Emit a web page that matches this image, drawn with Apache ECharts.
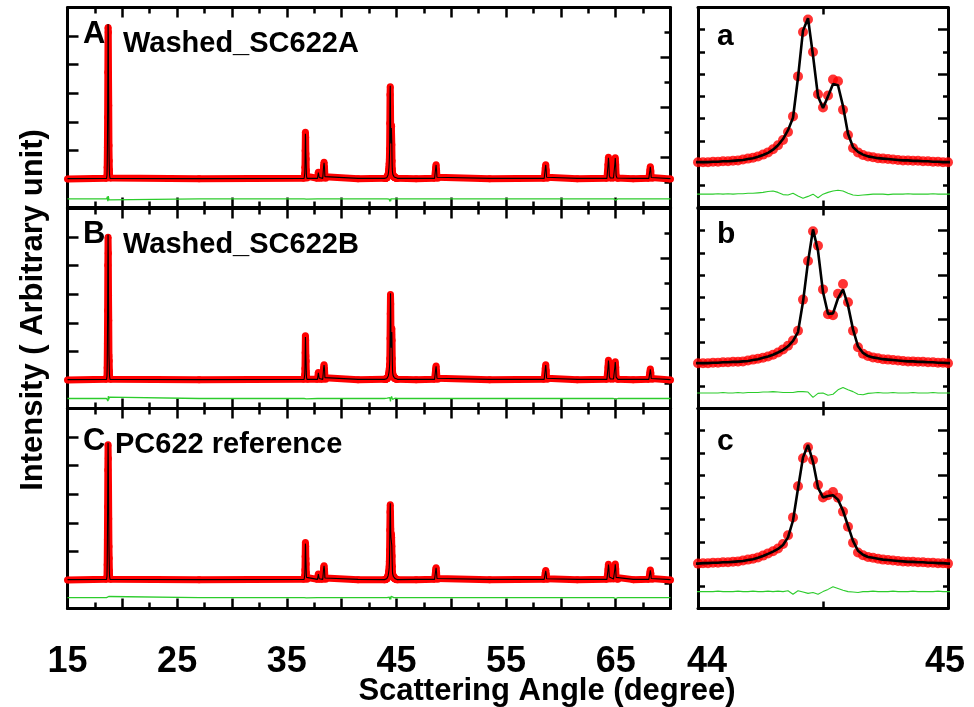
<!DOCTYPE html>
<html>
<head>
<meta charset="utf-8">
<script src="https://cdn.jsdelivr.net/npm/echarts@6/dist/echarts.min.js"></script>
<style>
  html, body { margin: 0; padding: 0; background: #fff; }
  #chart { width: 974px; height: 707px; }
</style>
</head>
<body>
<div id="chart"></div>
<script>
// Scattering angle grid (degree), shared by all three scans
const twoTheta = [
  15.0, 18.56,
  18.60, 18.62, 18.64, 18.66, 18.68, 18.70, 18.72, 18.74, 18.76, 18.78, 18.80, 18.82, 18.84,
  18.88, 27.0, 36.58,
  36.62, 36.64, 36.66, 36.68, 36.70, 36.72, 36.74, 36.76, 36.78, 36.80,
  36.84, 37.80,
  37.84, 37.88, 37.92, 37.96,
  38.02, 38.28,
  38.32, 38.36, 38.40, 38.44, 38.48,
  38.54, 41.5, 43.9,
  44.00, 44.02, 44.04, 44.06, 44.08, 44.10, 44.12, 44.14, 44.16, 44.18,
  44.20, 44.22, 44.24, 44.26, 44.28, 44.30, 44.32, 44.34, 44.36, 44.38,
  44.40, 44.42, 44.44, 44.46, 44.48, 44.50, 44.52, 44.54, 44.56, 44.58,
  44.60, 44.62, 44.64, 44.66, 44.68, 44.70, 44.72, 44.74, 44.76, 44.78,
  44.80, 44.82, 44.84, 44.86, 44.88, 44.90, 44.92, 44.94, 44.96, 44.98,
  45.00,
  45.1, 46.8, 48.48,
  48.54, 48.58, 48.62, 48.66, 48.70,
  48.76, 53.5, 58.48,
  58.54, 58.58, 58.62, 58.66, 58.70,
  58.76, 61.5, 64.20,
  64.26, 64.30, 64.34, 64.38, 64.42, 64.50, 64.80, 64.88, 64.92, 64.96, 65.00, 65.04, 65.12,
  65.20, 66.6, 68.02,
  68.08, 68.12, 68.16, 68.20, 68.24,
  68.32, 70.0
];

// Washed_SC622A : observed, calculated, difference
const obsA = [
  0.00, 0.02,
  0.10, 0.41, 1.10, 2.16, 3.73, 5.30, 5.13, 3.60, 2.57, 1.17, 0.64, 0.30, 0.12,
  0.03, 0.01, 0.02,
  0.08, 0.18, 0.41, 0.99, 1.63, 1.46, 0.88, 0.70, 0.30, 0.10,
  0.03, 0.02,
  0.05, 0.23, 0.20, 0.05,
  0.02, 0.03,
  0.08, 0.45, 0.58, 0.40, 0.08,
  0.02, 0.01, 0.02,
  0.02, 0.02, 0.02, 0.03, 0.03, 0.04, 0.04, 0.05, 0.06, 0.08,
  0.10, 0.12, 0.15, 0.19, 0.24, 0.31, 0.40, 0.52, 0.70, 1.05,
  1.95, 2.95, 3.23, 2.50, 1.55, 1.25, 1.52, 1.88, 1.84, 1.20,
  0.63, 0.34, 0.24, 0.18, 0.15, 0.13, 0.11, 0.10, 0.09, 0.08,
  0.07, 0.06, 0.06, 0.05, 0.05, 0.04, 0.04, 0.03, 0.03, 0.02,
  0.02,
  0.02, 0.01, 0.02,
  0.06, 0.38, 0.50, 0.30, 0.06,
  0.02, 0.01, 0.02,
  0.06, 0.38, 0.50, 0.30, 0.06,
  0.02, 0.01, 0.02,
  0.06, 0.50, 0.76, 0.55, 0.12, 0.03, 0.03, 0.10, 0.52, 0.74, 0.50, 0.12, 0.03,
  0.02, 0.01, 0.02,
  0.05, 0.30, 0.43, 0.28, 0.05,
  0.02, 0.00
];
const calcA = [
  0.01, 0.02,
  0.12, 0.45, 1.15, 2.25, 3.80, 5.42, 5.05, 3.52, 2.50, 1.20, 0.60, 0.28, 0.12,
  0.02, 0.01, 0.02,
  0.08, 0.19, 0.44, 1.02, 1.58, 1.42, 0.92, 0.66, 0.31, 0.10,
  0.02, 0.02,
  0.05, 0.22, 0.21, 0.05,
  0.02, 0.02,
  0.09, 0.44, 0.56, 0.41, 0.08,
  0.02, 0.02, 0.02,
  0.02, 0.02, 0.02, 0.03, 0.03, 0.04, 0.04, 0.05, 0.06, 0.07,
  0.09, 0.11, 0.14, 0.18, 0.23, 0.30, 0.40, 0.54, 0.74, 1.02,
  1.92, 2.98, 3.26, 2.42, 1.50, 1.24, 1.50, 1.78, 1.75, 1.28,
  0.66, 0.36, 0.25, 0.19, 0.15, 0.13, 0.11, 0.10, 0.09, 0.08,
  0.07, 0.06, 0.06, 0.05, 0.05, 0.04, 0.04, 0.03, 0.03, 0.02,
  0.02,
  0.02, 0.02, 0.02,
  0.06, 0.37, 0.49, 0.31, 0.06,
  0.02, 0.02, 0.02,
  0.06, 0.37, 0.49, 0.31, 0.06,
  0.02, 0.02, 0.02,
  0.06, 0.49, 0.74, 0.56, 0.12, 0.03, 0.03, 0.10, 0.51, 0.73, 0.51, 0.12, 0.03,
  0.02, 0.02, 0.02,
  0.05, 0.29, 0.42, 0.29, 0.05,
  0.02, 0.01
];
const diffA = [
  -0.70, -0.70,
  -0.70, -0.67, -0.62, -0.58, -0.78, -0.82, -0.60, -0.62, -0.64, -0.73, -0.66, -0.68, -0.70,
  -0.70, -0.70, -0.70,
  -0.70, -0.70, -0.71, -0.73, -0.65, -0.66, -0.74, -0.66, -0.71, -0.70,
  -0.69, -0.70,
  -0.70, -0.69, -0.71, -0.70,
  -0.70, -0.70,
  -0.71, -0.69, -0.68, -0.71, -0.70,
  -0.70, -0.70, -0.70,
  -0.70, -0.70, -0.70, -0.70, -0.69, -0.70, -0.69, -0.70, -0.69, -0.69,
  -0.68, -0.68, -0.67, -0.66, -0.64, -0.63, -0.66, -0.71, -0.72, -0.68,
  -0.74, -0.79, -0.75, -0.70, -0.78, -0.70, -0.66, -0.63, -0.61, -0.63,
  -0.68, -0.72, -0.73, -0.72, -0.71, -0.70, -0.70, -0.70, -0.71, -0.70,
  -0.70, -0.70, -0.69, -0.70, -0.70, -0.70, -0.70, -0.69, -0.70, -0.70,
  -0.70,
  -0.70, -0.70, -0.70,
  -0.70, -0.69, -0.70, -0.71, -0.70,
  -0.70, -0.70, -0.70,
  -0.70, -0.69, -0.70, -0.71, -0.70,
  -0.70, -0.70, -0.70,
  -0.70, -0.69, -0.66, -0.74, -0.70, -0.70, -0.70, -0.70, -0.68, -0.66, -0.74, -0.70, -0.70,
  -0.70, -0.70, -0.70,
  -0.70, -0.69, -0.71, -0.70, -0.70,
  -0.70, -0.70
];

// Washed_SC622B
const obsB = [
  0.00, 0.02,
  0.10, 0.43, 1.26, 2.43, 4.01, 4.99, 4.43, 2.96, 2.08, 0.85, 0.67, 0.30, 0.12,
  0.02, 0.01, 0.02,
  0.08, 0.18, 0.40, 0.95, 1.55, 1.38, 0.85, 0.66, 0.28, 0.10,
  0.02, 0.02,
  0.05, 0.26, 0.22, 0.05,
  0.02, 0.02,
  0.08, 0.42, 0.53, 0.38, 0.08,
  0.02, 0.01, 0.02,
  0.02, 0.02, 0.02, 0.03, 0.03, 0.04, 0.04, 0.05, 0.05, 0.06,
  0.08, 0.10, 0.12, 0.14, 0.17, 0.21, 0.26, 0.33, 0.41, 0.53,
  0.75, 1.45, 2.32, 2.99, 2.66, 1.68, 1.12, 1.10, 1.58, 1.80,
  1.39, 0.75, 0.38, 0.23, 0.18, 0.15, 0.13, 0.11, 0.10, 0.09,
  0.08, 0.07, 0.06, 0.06, 0.05, 0.05, 0.04, 0.04, 0.03, 0.03,
  0.02,
  0.02, 0.01, 0.02,
  0.06, 0.37, 0.49, 0.29, 0.06,
  0.02, 0.01, 0.02,
  0.06, 0.40, 0.53, 0.32, 0.06,
  0.02, 0.01, 0.02,
  0.06, 0.45, 0.69, 0.50, 0.12, 0.03, 0.03, 0.10, 0.45, 0.64, 0.44, 0.10, 0.03,
  0.02, 0.01, 0.02,
  0.05, 0.27, 0.38, 0.25, 0.05,
  0.02, 0.00
];
const calcB = [
  0.01, 0.02,
  0.12, 0.46, 1.30, 2.50, 4.10, 5.08, 4.35, 2.90, 2.02, 0.88, 0.62, 0.28, 0.12,
  0.02, 0.01, 0.02,
  0.08, 0.19, 0.42, 0.98, 1.50, 1.34, 0.88, 0.62, 0.29, 0.10,
  0.02, 0.02,
  0.05, 0.25, 0.23, 0.05,
  0.02, 0.02,
  0.09, 0.41, 0.52, 0.39, 0.08,
  0.02, 0.02, 0.02,
  0.02, 0.02, 0.02, 0.03, 0.03, 0.04, 0.04, 0.05, 0.05, 0.06,
  0.07, 0.09, 0.11, 0.14, 0.17, 0.21, 0.26, 0.32, 0.40, 0.52,
  0.72, 1.40, 2.30, 3.03, 2.55, 1.62, 1.13, 1.14, 1.48, 1.68,
  1.32, 0.78, 0.40, 0.25, 0.18, 0.15, 0.13, 0.11, 0.10, 0.09,
  0.08, 0.07, 0.06, 0.06, 0.05, 0.05, 0.04, 0.04, 0.03, 0.03,
  0.02,
  0.02, 0.02, 0.02,
  0.06, 0.36, 0.48, 0.30, 0.06,
  0.02, 0.02, 0.02,
  0.06, 0.39, 0.52, 0.33, 0.06,
  0.02, 0.02, 0.02,
  0.06, 0.44, 0.68, 0.51, 0.12, 0.03, 0.03, 0.10, 0.44, 0.63, 0.45, 0.10, 0.03,
  0.02, 0.02, 0.02,
  0.05, 0.26, 0.37, 0.26, 0.05,
  0.02, 0.01
];
const diffB = [
  -0.65, -0.65,
  -0.65, -0.63, -0.61, -0.58, -0.56, -0.74, -0.57, -0.59, -0.59, -0.68, -0.60, -0.63, -0.65,
  -0.65, -0.65, -0.65,
  -0.65, -0.66, -0.67, -0.68, -0.60, -0.61, -0.68, -0.61, -0.66, -0.65,
  -0.65, -0.65,
  -0.65, -0.64, -0.66, -0.65,
  -0.65, -0.65,
  -0.66, -0.64, -0.64, -0.66, -0.65,
  -0.65, -0.65, -0.65,
  -0.65, -0.65, -0.65, -0.65, -0.65, -0.64, -0.65, -0.65, -0.64, -0.65,
  -0.64, -0.64, -0.64, -0.63, -0.63, -0.62, -0.63, -0.64, -0.64, -0.64,
  -0.62, -0.62, -0.63, -0.75, -0.66, -0.65, -0.70, -0.68, -0.58, -0.53,
  -0.58, -0.62, -0.68, -0.69, -0.66, -0.65, -0.64, -0.65, -0.65, -0.64,
  -0.65, -0.65, -0.65, -0.64, -0.65, -0.65, -0.65, -0.64, -0.65, -0.65,
  -0.65,
  -0.65, -0.65, -0.65,
  -0.65, -0.64, -0.65, -0.66, -0.65,
  -0.65, -0.65, -0.65,
  -0.65, -0.64, -0.65, -0.66, -0.65,
  -0.65, -0.65, -0.65,
  -0.65, -0.64, -0.62, -0.68, -0.65, -0.65, -0.65, -0.65, -0.63, -0.62, -0.68, -0.65, -0.65,
  -0.65, -0.65, -0.65,
  -0.65, -0.64, -0.66, -0.65, -0.65,
  -0.65, -0.65
];

// PC622 reference
const obsC = [
  0.00, 0.02,
  0.10, 0.53, 1.41, 2.56, 3.85, 4.73, 4.25, 3.26, 2.14, 1.17, 0.76, 0.32, 0.12,
  0.02, 0.01, 0.02,
  0.07, 0.15, 0.35, 0.82, 1.31, 1.18, 0.74, 0.56, 0.24, 0.09,
  0.02, 0.02,
  0.04, 0.21, 0.18, 0.04,
  0.02, 0.02,
  0.07, 0.40, 0.50, 0.35, 0.07,
  0.02, 0.01, 0.01,
  0.01, 0.02, 0.02, 0.03, 0.03, 0.04, 0.04, 0.05, 0.06, 0.08,
  0.10, 0.12, 0.15, 0.19, 0.24, 0.29, 0.35, 0.45, 0.65, 1.05,
  1.75, 2.38, 2.63, 2.34, 1.78, 1.50, 1.55, 1.62, 1.49, 1.18,
  0.84, 0.48, 0.26, 0.20, 0.16, 0.14, 0.12, 0.10, 0.09, 0.08,
  0.07, 0.06, 0.05, 0.05, 0.04, 0.04, 0.03, 0.03, 0.02, 0.02,
  0.01,
  0.01, 0.01, 0.02,
  0.05, 0.33, 0.43, 0.26, 0.05,
  0.02, 0.01, 0.02,
  0.04, 0.25, 0.33, 0.20, 0.04,
  0.02, 0.01, 0.02,
  0.05, 0.36, 0.55, 0.40, 0.10, 0.03, 0.03, 0.09, 0.38, 0.56, 0.38, 0.09, 0.03,
  0.02, 0.01, 0.02,
  0.05, 0.25, 0.35, 0.23, 0.05,
  0.02, 0.00
];
const calcC = [
  0.01, 0.02,
  0.12, 0.55, 1.45, 2.62, 3.92, 4.80, 4.18, 3.20, 2.10, 1.20, 0.72, 0.30, 0.12,
  0.02, 0.01, 0.02,
  0.07, 0.16, 0.37, 0.85, 1.27, 1.15, 0.77, 0.53, 0.25, 0.09,
  0.02, 0.02,
  0.04, 0.20, 0.19, 0.04,
  0.02, 0.02,
  0.08, 0.39, 0.49, 0.36, 0.07,
  0.02, 0.02, 0.01,
  0.01, 0.02, 0.02, 0.03, 0.03, 0.04, 0.04, 0.05, 0.06, 0.07,
  0.09, 0.11, 0.14, 0.18, 0.23, 0.28, 0.34, 0.43, 0.60, 0.98,
  1.70, 2.40, 2.68, 2.30, 1.72, 1.50, 1.53, 1.55, 1.45, 1.20,
  0.86, 0.52, 0.30, 0.21, 0.16, 0.14, 0.12, 0.10, 0.09, 0.08,
  0.07, 0.06, 0.05, 0.05, 0.04, 0.04, 0.03, 0.03, 0.02, 0.02,
  0.01,
  0.01, 0.02, 0.02,
  0.05, 0.32, 0.42, 0.27, 0.05,
  0.02, 0.02, 0.02,
  0.04, 0.24, 0.32, 0.21, 0.04,
  0.02, 0.02, 0.02,
  0.05, 0.35, 0.54, 0.41, 0.10, 0.03, 0.03, 0.09, 0.37, 0.55, 0.39, 0.09, 0.03,
  0.02, 0.02, 0.02,
  0.05, 0.24, 0.34, 0.24, 0.05,
  0.02, 0.01
];
const diffC = [
  -0.62, -0.62,
  -0.62, -0.60, -0.58, -0.56, -0.55, -0.69, -0.55, -0.56, -0.58, -0.65, -0.58, -0.60, -0.62,
  -0.62, -0.62, -0.62,
  -0.62, -0.63, -0.64, -0.65, -0.58, -0.59, -0.65, -0.59, -0.63, -0.62,
  -0.62, -0.62,
  -0.62, -0.61, -0.63, -0.62,
  -0.62, -0.62,
  -0.63, -0.61, -0.61, -0.63, -0.62,
  -0.62, -0.62, -0.62,
  -0.62, -0.62, -0.62, -0.62, -0.61, -0.62, -0.62, -0.62, -0.61, -0.62,
  -0.62, -0.61, -0.62, -0.62, -0.61, -0.62, -0.61, -0.62, -0.60, -0.68,
  -0.60, -0.63, -0.66, -0.64, -0.68, -0.62, -0.57, -0.51, -0.55, -0.59,
  -0.62, -0.63, -0.64, -0.62, -0.62, -0.61, -0.62, -0.62, -0.62, -0.61,
  -0.62, -0.62, -0.62, -0.61, -0.62, -0.62, -0.62, -0.62, -0.61, -0.62,
  -0.62,
  -0.62, -0.62, -0.62,
  -0.62, -0.61, -0.62, -0.63, -0.62,
  -0.62, -0.62, -0.62,
  -0.62, -0.61, -0.62, -0.63, -0.62,
  -0.62, -0.62, -0.62,
  -0.62, -0.61, -0.59, -0.65, -0.62, -0.62, -0.62, -0.62, -0.60, -0.59, -0.65, -0.62, -0.62,
  -0.62, -0.62, -0.62,
  -0.62, -0.61, -0.63, -0.62, -0.62,
  -0.62, -0.62
];

// Axis ranges and labelled ticks
const fullRange = [15, 70];
const zoomRange = [44, 45];
const fullTickLabels = [15, 25, 35, 45, 55, 65];
const zoomTickLabels = [44, 45];

// Panel captions
const panelTags = ['A', 'B', 'C'];
const sampleNames = ['Washed_SC622A', 'Washed_SC622B', 'PC622 reference'];
const zoomTags = ['a', 'b', 'c'];
const xTitle = 'Scattering Angle (degree)';
const yTitle = 'Intensity ( Arbitrary unit)';

const scans = [
  { obs: obsA, calc: calcA, diff: diffA },
  { obs: obsB, calc: calcB, diff: diffB },
  { obs: obsC, calc: calcC, diff: diffC }
];

const RED = '#ff0000';
const GREEN = '#2ccc2c';
const FONT = '"Liberation Sans", Arial, Helvetica, sans-serif';

const rowTops = [7.5, 208.5, 408.5];
const ROW_H = 200;
const FULL_LEFT = 67.5, FULL_W = 603;
const ZOOM_LEFT = 698, ZOOM_W = 250;
const TICK_FONT = 36;
const LABEL_MARGIN = 36;

const pairs = ys => twoTheta.map((x, i) => [x, ys[i]]);

const grids = [], xAxes = [], yAxes = [], series = [];

function tick(len) {
  return { show: true, inside: true, length: len, lineStyle: { color: '#000', width: 2.5 } };
}
function minor(len, split) {
  return { show: true, splitNumber: split, length: len, lineStyle: { color: '#000', width: 2.5 } };
}
const frameLine = { show: true, onZero: false, lineStyle: { color: '#000', width: 3 } };
const noLine = { show: false, onZero: false };

function xAxis(gi, pos, range, interval, len, minorTick, label) {
  xAxes.push({
    gridIndex: gi, type: 'value', position: pos,
    min: range[0], max: range[1], interval: interval,
    axisLine: frameLine, axisTick: tick(len),
    minorTick: minorTick || { show: false },
    splitLine: { show: false }, minorSplitLine: { show: false },
    axisLabel: label || { show: false }
  });
  return xAxes.length - 1;
}
function yAxis(gi, pos, min, max, interval, len, minorTick, line) {
  yAxes.push({
    gridIndex: gi, type: 'value', position: pos,
    min: min, max: max, interval: interval,
    axisLine: line === false ? noLine : frameLine, axisTick: tick(len),
    minorTick: minorTick || { show: false },
    splitLine: { show: false }, minorSplitLine: { show: false },
    axisLabel: { show: false }
  });
  return yAxes.length - 1;
}

const bottomLabel = (values) => ({
  show: true, margin: LABEL_MARGIN, color: '#000',
  fontSize: TICK_FONT, fontWeight: 'bold', fontFamily: FONT,
  showMinLabel: true, showMaxLabel: true,
  formatter: v => values.includes(v) ? String(v) : ''
});

// Full-range panels (A, B, C)
scans.forEach((scan, r) => {
  const gi = grids.length;
  grids.push({ left: FULL_LEFT, top: rowTops[r], width: FULL_W, height: ROW_H });
  const last = r === scans.length - 1;
  const xb = xAxis(gi, 'bottom', fullRange, 5, 10, minor(6, 2), last ? bottomLabel(fullTickLabels) : null);
  xAxis(gi, 'top', fullRange, 5, 10, minor(6, 2));
  const yl = yAxis(gi, 'left', -1, 6, 1, 11);
  yAxis(gi, 'right', 0, 8, 2, 10, minor(6, 2));

  series.push({
    type: 'line', xAxisIndex: xb, yAxisIndex: yl, data: pairs(scan.obs),
    symbol: 'circle', symbolSize: 7, showSymbol: true, showAllSymbol: true,
    itemStyle: { color: RED }, lineStyle: { color: RED, width: 7 }, z: 2, silent: true
  });
  series.push({
    type: 'line', xAxisIndex: xb, yAxisIndex: yl, data: pairs(scan.calc),
    symbol: 'none', lineStyle: { color: '#000', width: 1.1 }, z: 3, silent: true
  });
  series.push({
    type: 'line', xAxisIndex: xb, yAxisIndex: yl, data: pairs(scan.diff),
    symbol: 'none', lineStyle: { color: GREEN, width: 1.3 }, z: 3, silent: true
  });
});

// 44-45 degree close-ups (a, b, c)
scans.forEach((scan, r) => {
  const gi = grids.length;
  grids.push({ left: ZOOM_LEFT, top: rowTops[r], width: ZOOM_W, height: ROW_H });
  const last = r === scans.length - 1;
  const richBase = { fontSize: TICK_FONT, fontWeight: 'bold', fontFamily: FONT, color: '#000' };
  const zoomLabel = last ? {
    show: true, margin: LABEL_MARGIN, color: '#000',
    fontSize: TICK_FONT, fontWeight: 'bold', fontFamily: FONT,
    showMinLabel: true, showMaxLabel: true,
    formatter: v => v === zoomTickLabels[0] ? '{lo|' + v + '}' : (v === zoomTickLabels[1] ? '{hi|' + v + '}' : ''),
    rich: {
      lo: Object.assign({ padding: [0, 0, 0, 18] }, richBase),
      hi: Object.assign({ padding: [0, 6, 0, 0] }, richBase)
    }
  } : null;
  const xb = xAxis(gi, 'bottom', zoomRange, 0.5, 7, null, zoomLabel);
  xAxis(gi, 'top', zoomRange, 0.5, 7);
  const yl = yAxis(gi, 'left', -1, 3.5, 0.5, 7);
  yAxis(gi, 'right', -1, 3.5, 0.5, 5);
  yAxis(gi, 'right', -1, 3.5, 1, 10, null, false);

  series.push({
    type: 'scatter', xAxisIndex: xb, yAxisIndex: yl, data: pairs(scan.obs),
    symbol: 'circle', symbolSize: 10, itemStyle: { color: RED }, z: 2, silent: true
  });
  series.push({
    type: 'line', xAxisIndex: xb, yAxisIndex: yl, data: pairs(scan.calc),
    symbol: 'none', lineStyle: { color: '#000', width: 2.6 }, z: 3, silent: true
  });
  series.push({
    type: 'line', xAxisIndex: xb, yAxisIndex: yl, data: pairs(scan.diff),
    symbol: 'none', lineStyle: { color: GREEN, width: 1.1 }, z: 3, silent: true
  });
});

// Captions and axis titles
const capFont = size => 'bold ' + size + 'px ' + FONT;
const graphics = [];
const tagY = [34, 234, 441];
const nameY = [44, 245, 445];
const nameX = [123, 123, 115];
const zoomTagY = [37, 235, 442];
panelTags.forEach((t, i) => {
  graphics.push({ type: 'text', x: 83, y: tagY[i], style: { text: t, font: capFont(31), fill: '#000', align: 'left', verticalAlign: 'middle' } });
  graphics.push({ type: 'text', x: nameX[i], y: nameY[i], style: { text: sampleNames[i], font: capFont(29), fill: '#000', align: 'left', verticalAlign: 'middle' } });
  graphics.push({ type: 'text', x: 717, y: zoomTagY[i], style: { text: zoomTags[i], font: capFont(30), fill: '#000', align: 'left', verticalAlign: 'middle' } });
});
graphics.push({ type: 'text', x: 547, y: 691, style: { text: xTitle, font: capFont(31), fill: '#000', align: 'center', verticalAlign: 'middle' } });
graphics.push({ type: 'text', x: 33, y: 310, rotation: Math.PI / 2, style: { text: yTitle, font: capFont(31), fill: '#000', align: 'center', verticalAlign: 'middle' } });

const chart = echarts.init(document.getElementById('chart'), null, { renderer: 'canvas' });
chart.setOption({
  animation: false,
  backgroundColor: '#fff',
  grid: grids,
  xAxis: xAxes,
  yAxis: yAxes,
  series: series,
  graphic: graphics
});
</script>
</body>
</html>
